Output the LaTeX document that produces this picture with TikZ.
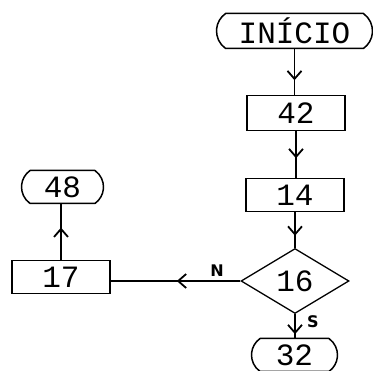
\documentclass[tikz,border=0pt]{standalone}
\usepackage{fontspec}
\setmainfont{Liberation Mono}
\newfontfamily\lblfont{DejaVu Sans}
\usetikzlibrary{shapes.geometric,shapes.misc,arrows.meta,decorations.markings}
\tikzset{
  every node/.style={font=\fontsize{31}{32}\selectfont, inner sep=0pt},
  term/.style={draw, line width=1.5pt, rounded rectangle, rounded rectangle arc length=110},
  proc/.style={draw, line width=1.3pt, rectangle},
  dec/.style={draw, line width=1.3pt, diamond},
  lbl/.style={font=\lblfont\bfseries\fontsize{16}{16}\selectfont},
  flow/.style={line width=1.3pt, postaction={decorate},
    decoration={markings, mark=at position #1 with {\arrow{Straight Barb[length=8pt,width=14pt,line width=1.8pt]}}}},
}
\begin{document}
\begin{tikzpicture}[x=1pt,y=-1pt]
\useasboundingbox (0,0) rectangle (373,371);
\node[term, minimum width=156pt, minimum height=35pt] (ini) at (294.5,31) {INÍCIO};
\node[proc, minimum width=98pt, minimum height=35pt] (b42) at (296,113) {42};
\node[proc, minimum width=98pt, minimum height=33pt] (b14) at (295,195) {14};
\node[dec, minimum width=108pt, minimum height=65pt] (d16) at (295,281) {16};
\node[term, minimum width=86pt, minimum height=33pt] (t32) at (294.5,355) {32};
\node[proc, minimum width=98pt, minimum height=33pt] (b17) at (61,277) {17};
\node[term, minimum width=82pt, minimum height=33pt] (t48) at (62.5,187) {48};
\node[lbl] (lN) at (217,271) {N};
\node[lbl] (lS) at (313,322) {S};
\draw[flow=0.68] (ini.south) -- (ini.south |- b42.north);
\draw[flow=0.58] (b42.south) -- (b42.south |- b14.north);
\draw[flow=0.66] (b14.south) -- (d16.north);
\draw[flow=0.85] (d16.south) -- (d16.south |- t32.north);
\draw[flow=0.49] (d16.west) -- (d16.west -| b17.east);
\draw[flow=0.58] (b17.north) -- (b17.north |- t48.south);
\end{tikzpicture}
\end{document}
